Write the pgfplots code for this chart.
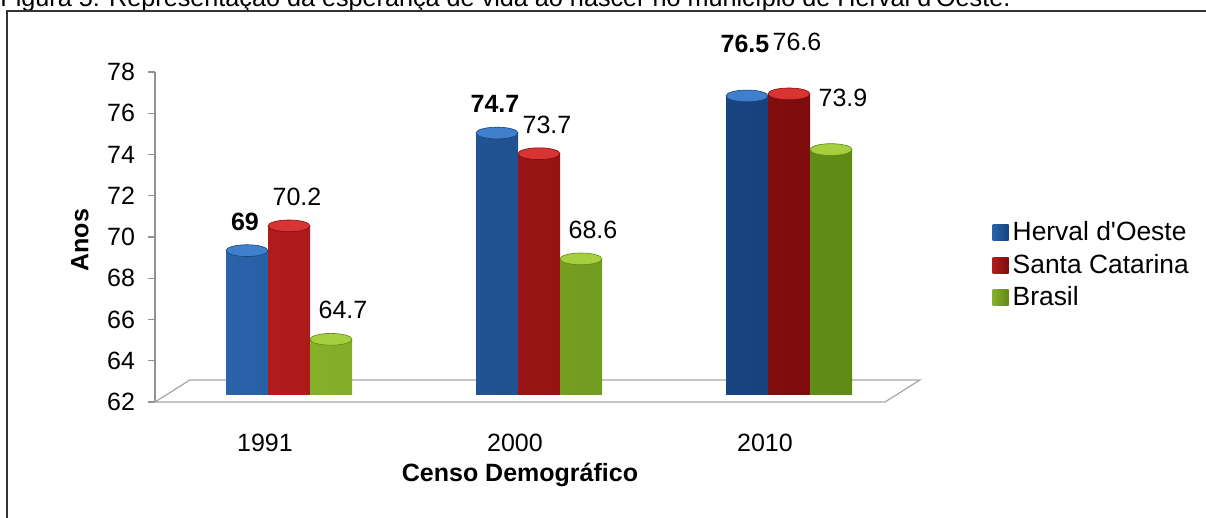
\documentclass[border=0pt]{standalone}
\usepackage{fontspec}
\setmainfont{Liberation Sans}
\usepackage{pgfplots}
\usepackage{pgfplotstable}
\pgfplotsset{compat=1.18}
\definecolor{bL}{HTML}{2A63AA}
\definecolor{bM}{HTML}{5A9BE2}
\definecolor{bR}{HTML}{17427C}
\definecolor{bC}{HTML}{3F7FCC}
\definecolor{rL}{HTML}{B01C1C}
\definecolor{rM}{HTML}{EA4848}
\definecolor{rR}{HTML}{7E0C0C}
\definecolor{rC}{HTML}{D93434}
\definecolor{gL}{HTML}{86B02A}
\definecolor{gM}{HTML}{BCE05A}
\definecolor{gR}{HTML}{5E8A16}
\definecolor{gC}{HTML}{A6CE3E}
\newcommand\f{\fontsize{12.5pt}{15pt}\selectfont}
\pgfplotstableread{
x y
0 69
1 74.7
2 76.5
}\herval
\pgfplotstableread{
x y
0 70.2
1 73.7
2 76.6
}\santa
\pgfplotstableread{
x y
0 64.7
1 68.6
2 73.9
}\brasil
\pgfplotsset{
  cyl/.style={ybar, bar width=21pt, draw=none, yshift=3.5pt,
    legend image code/.code={\draw[##1, draw=none, yshift=-3.5pt] (0pt,-4pt) rectangle (8pt,4pt);}},
  cap/.style={only marks, mark=*, mark size=10.5pt, forget plot,
    visualization depends on={x \as \xv},
    every node near coord/.append style={font=\f, anchor=center, text=black,
      yshift={14.5pt+11.5pt*(\xv>1.5)}}},
}
\begin{document}
\begin{tikzpicture}
\useasboundingbox (0pt,0pt) rectangle (603pt,259pt);
\clip (0pt,0pt) rectangle (603pt,259pt);
\node[anchor=base west, inner sep=0pt, font=\fontsize{12.6pt}{15pt}\selectfont] at (0pt,255.5pt) {Figura 5: Representação da esperança de vida ao nascer no município de Herval d\textquotesingle Oeste.};
\draw[line width=0.8pt, color=black!80] (3.5pt,-5pt) -- (3.5pt,253.5pt) -- (610pt,253.5pt);
\begin{axis}[
  scale only axis, width=365pt, height=165pt,
  at={(77.5pt,58pt)}, anchor=south west,
  xmin=-0.44, xmax=2.48, ymin=0, ymax=16, clip=false,
  axis y line*=left, axis x line*=bottom,
  x axis line style={draw=none},
  y axis line style={draw=gray!85, line width=0.6pt},
  ytick={0,2,...,16},
  yticklabel={\pgfmathparse{int(\tick+62)}\pgfmathresult},
  xtick={0,1,2}, xticklabels={1991,2000,2010},
  xtick style={draw=none},
  ytick style={draw=gray!85, line width=0.6pt},
  tick align=outside, major tick length=3.5pt,
  tick label style={font=\f, text=black},
  yticklabel style={xshift=-3pt},
  xticklabel style={yshift=-9pt},
  xlabel={\textbf{Censo Demográfico}}, ylabel={\textbf{Anos}},
  label style={font=\f},
  xlabel style={at={(axis description cs:0.5,-0.22)}, anchor=center},
  ylabel style={at={(axis description cs:-0.103,0.49)}, anchor=center},
  y filter/.expression={y-62},
  point meta=rawy,
  legend style={at={(1.147,0.415)}, anchor=west, draw=none, fill=none, font=\fontsize{13.2pt}{15.5pt}\selectfont, row sep=1pt, inner sep=0pt},
  legend cell align=left,
]
\draw[gray!70, fill=white, line width=0.6pt] (axis cs:-0.44,0) -- (axis cs:2.48,0) -- (axis cs:2.62,1.07) -- (axis cs:-0.30,1.07) -- cycle;
\addplot[cyl, bar shift=-9pt, left color=bL, middle color=bM, right color=bR] table {\herval};
\addplot[cyl, bar shift=12pt, left color=rL, middle color=rM, right color=rR] table {\santa};
\addplot[cyl, bar shift=33pt, left color=gL, middle color=gM, right color=gR] table {\brasil};
\addplot[cap, mark options={yscale=0.28, xshift=-9pt, yshift=12.5pt, draw=bR, line width=0.3pt, fill=bC},
  nodes near coords={\bfseries\pgfmathprintnumber[assume math mode=true]{\pgfplotspointmeta}},
  every node near coord/.append style={xshift=-1pt}] table {\herval};
\addplot[cap, mark options={yscale=0.28, xshift=12pt, yshift=12.5pt, draw=rR, line width=0.3pt, fill=rC},
  nodes near coords={\pgfmathprintnumber[assume math mode=true]{\pgfplotspointmeta}},
  every node near coord/.append style={xshift=4pt}] table {\santa};
\addplot[cap, mark options={yscale=0.28, xshift=33pt, yshift=12.5pt, draw=gR, line width=0.3pt, fill=gC},
  nodes near coords={\pgfmathprintnumber[assume math mode=true]{\pgfplotspointmeta}},
  every node near coord/.append style={xshift=6pt}] table {\brasil};
\legend{Herval d\textquotesingle Oeste, Santa Catarina, Brasil}
\end{axis}
\end{tikzpicture}
\end{document}
